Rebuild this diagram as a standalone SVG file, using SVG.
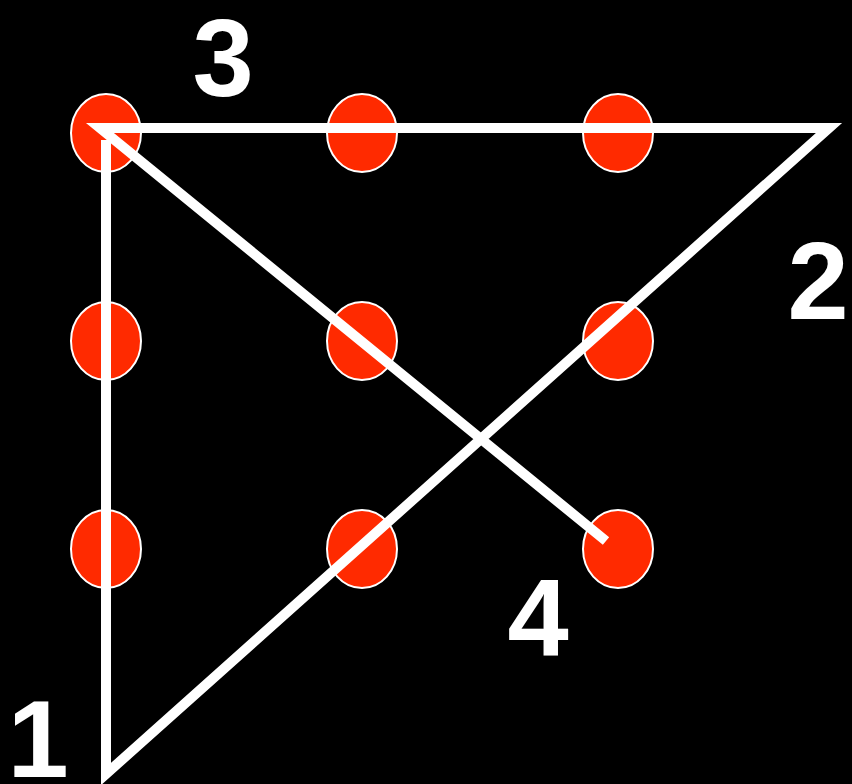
<svg xmlns="http://www.w3.org/2000/svg" width="852" height="784" viewBox="0 0 852 784">
<style>
.dot{fill:#ff2a00;stroke:#ffffff;stroke-width:2}
.lbl{fill:#ffffff;font-family:"Liberation Sans",Arial,sans-serif;font-weight:bold;font-size:110px;text-anchor:middle}
.ln{fill:none;stroke:#ffffff;stroke-width:10;stroke-linejoin:miter;stroke-miterlimit:10;stroke-linecap:butt}
</style>
<rect width="852" height="784" fill="#000000"/>
<g id="dots">
<g id="d11"><ellipse class="dot" cx="106" cy="133" rx="35" ry="39"/></g>
<g id="d12"><ellipse class="dot" cx="362" cy="133" rx="35" ry="39"/></g>
<g id="d13"><ellipse class="dot" cx="618" cy="133" rx="35" ry="39"/></g>
<g id="d21"><ellipse class="dot" cx="106" cy="341" rx="35" ry="39"/></g>
<g id="d22"><ellipse class="dot" cx="362" cy="341" rx="35" ry="39"/></g>
<g id="d23"><ellipse class="dot" cx="618" cy="341" rx="35" ry="39"/></g>
<g id="d31"><ellipse class="dot" cx="106" cy="549" rx="35" ry="39"/></g>
<g id="d32"><ellipse class="dot" cx="362" cy="549" rx="35" ry="39"/></g>
<g id="d33"><ellipse class="dot" cx="618" cy="549" rx="35" ry="39"/></g>
</g>
<g id="connectors">
<path class="ln" d="M106,140 L106,774 L829,128 L100,128 L606,541"/>
</g>
<g id="labels">
<text class="lbl" x="223" y="96">3</text>
<text class="lbl" x="818" y="319">2</text>
<text class="lbl" x="538" y="655">4</text>
<text class="lbl" x="38" y="777">1</text>
</g>
</svg>
